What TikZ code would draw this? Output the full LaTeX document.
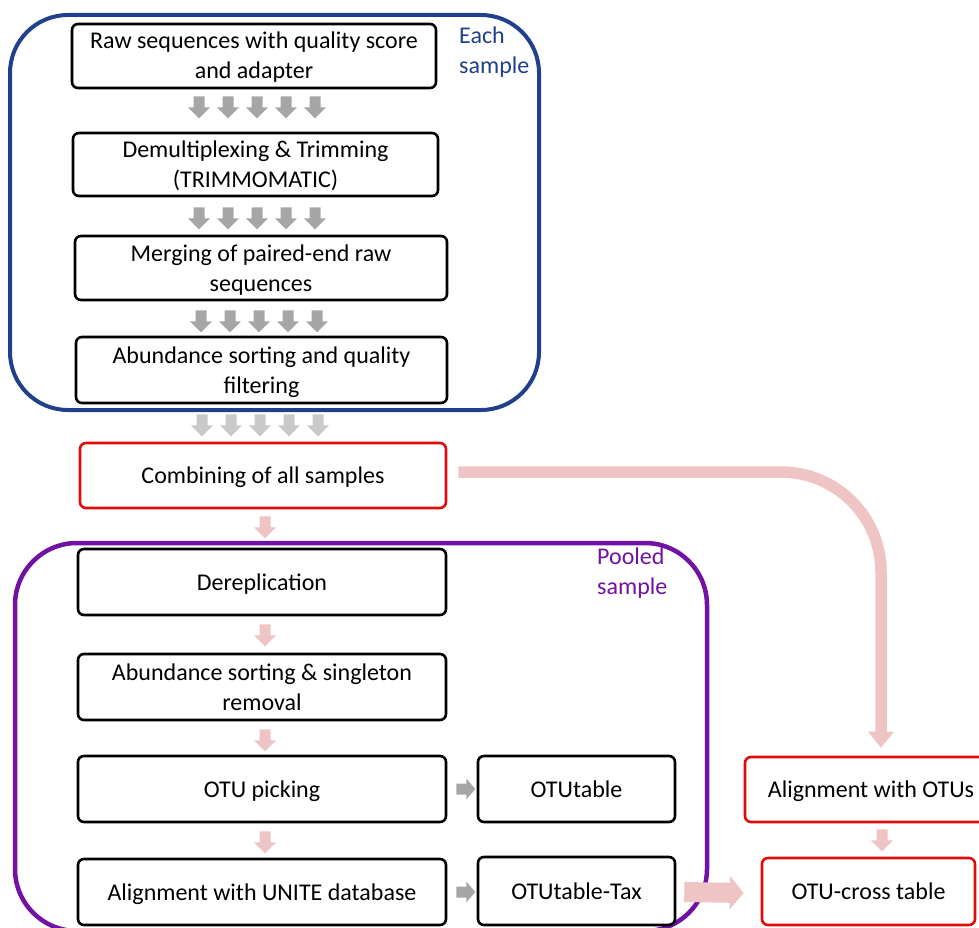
\documentclass[tikz,border=0pt]{standalone}
\usepackage{fontspec}
\setmainfont{Carlito}
\usetikzlibrary{arrows.meta,calc}
\definecolor{eblue}{HTML}{203F8C}
\definecolor{epurple}{HTML}{7012A3}
\definecolor{ered}{HTML}{E00B0B}
\definecolor{garrow}{HTML}{A6A6A6}
\definecolor{larrow}{HTML}{C9C9C9}
\definecolor{parrow}{HTML}{EFC4C4}
\tikzset{
  pics/darrow/.style={code={\fill[#1] (-5.5,0) -- (5.5,0) -- (5.5,11) -- (11,11) -- (0,22) -- (-11,11) -- (-5.5,11) -- cycle;}},
  pics/rarrow/.style={code={\fill[#1] (0,-5.5) -- (10,-5.5) -- (10,-10.5) -- (19,0) -- (10,10.5) -- (10,5.5) -- (0,5.5) -- cycle;}},
  box/.style={draw=black, line width=2.6pt, rounded corners=6pt, align=center, inner sep=0pt, text height=16pt, text depth=0pt},
  twoline/.style={text height=46pt, text depth=0pt},
  redbox/.style={box, draw=ered},
}
\begin{document}
\begin{tikzpicture}[x=1pt,y=-1pt,font=\fontsize{24}{30}\selectfont]
\useasboundingbox (0,0) rectangle (979,928);
\clip (0,0) rectangle (979,928);
% group frames
\draw[eblue, line width=4pt, rounded corners=58pt] (10,15) rectangle (539,410);
\draw[epurple, line width=4.5pt, rounded corners=62pt] (15,543) rectangle (707,931);
\node[eblue, anchor=north west, align=left, inner sep=0pt] (each) at (459,27) {Each\\sample};
\node[epurple, anchor=north west, align=left, inner sep=0pt] (pooled) at (597,548) {Pooled\\sample};
% boxes
\node[box, twoline, minimum width=364pt, minimum height=64pt] (b1) at (254,56) {Raw sequences with quality score\\and adapter};
\node[box, twoline, minimum width=365pt, minimum height=63pt] (b2) at (255.5,164.5) {Demultiplexing \& Trimming\\(TRIMMOMATIC)};
\node[box, twoline, minimum width=372pt, minimum height=64pt] (b3) at (261,268) {Merging of paired-end raw\\sequences};
\node[box, twoline, minimum width=371pt, minimum height=66pt] (b4) at (261.5,370) {Abundance sorting and quality\\filtering};
\node[redbox, minimum width=366pt, minimum height=65pt] (comb) at (263,475.5) {Combining of all samples};
\node[box, minimum width=368pt, minimum height=66pt] (derep) at (262,582) {Dereplication};
\node[box, twoline, minimum width=368pt, minimum height=66pt] (abund) at (262,687) {Abundance sorting \& singleton\\removal};
\node[box, minimum width=368pt, minimum height=66pt] (pick) at (262,789) {OTU picking};
\node[box, minimum width=368pt, minimum height=66pt] (unite) at (262,892) {Alignment with UNITE database};
\node[box, minimum width=197pt, minimum height=66pt] (otut) at (576.5,789) {OTUtable};
\node[box, minimum width=197pt, minimum height=68pt] (otutax) at (576.5,891) {OTUtable-Tax};
\node[redbox, minimum width=252pt, minimum height=65pt] (alo) at (871,789.5) {Alignment with OTUs};
\node[redbox, minimum width=213pt, minimum height=67pt] (cross) at (868.5,891.5) {OTU-cross table};
% gray block arrows between first boxes
\foreach \dx in {-58,-29,0,29,58} {
  \pic at ($(b1.south)+(\dx+3,7)$) {darrow=garrow};
  \pic at ($(b2.south)+(\dx+1.5,10)$) {darrow=garrow};
  \pic at ($(b3.south)+(\dx-2,9)$) {darrow=garrow};
  \pic at ($(b4.south)+(\dx-1.5,10)$) {darrow=larrow};
}
% pink arrows
\pic at ($(comb.south)+(2,7)$) {darrow=parrow};
\pic at ($(derep.south)+(3,8)$) {darrow=parrow};
\pic at ($(abund.south)+(3,8)$) {darrow=parrow};
\pic at ($(pick.south)+(3,8)$) {darrow=parrow};
\pic at ($(alo.south)+(11,6)$) {darrow=parrow};
% gray right arrows
\pic at ($(pick.east)+(9,0)$) {rarrow=garrow};
\pic at ($(unite.east)+(9,0)$) {rarrow=garrow};
% curved arrow
\coordinate (cstart) at ($(comb.east)+(11,-3.5)$);
\coordinate (cend) at ($(alo.north)+(10,-8)$);
\draw[parrow, line width=11.5pt, rounded corners=100pt, -{Triangle[width=25pt,length=16pt]}] (cstart) -| (cend);
% big arrow to cross table
\coordinate (bstart) at ($(otutax.east)+(8,1)$);
\coordinate (bend) at ($(cross.west)+(-17,1.5)$);
\draw[parrow, line width=20pt, -{Triangle[width=33pt,length=14pt]}] (bstart) -- (bend);
\end{tikzpicture}
\end{document}
